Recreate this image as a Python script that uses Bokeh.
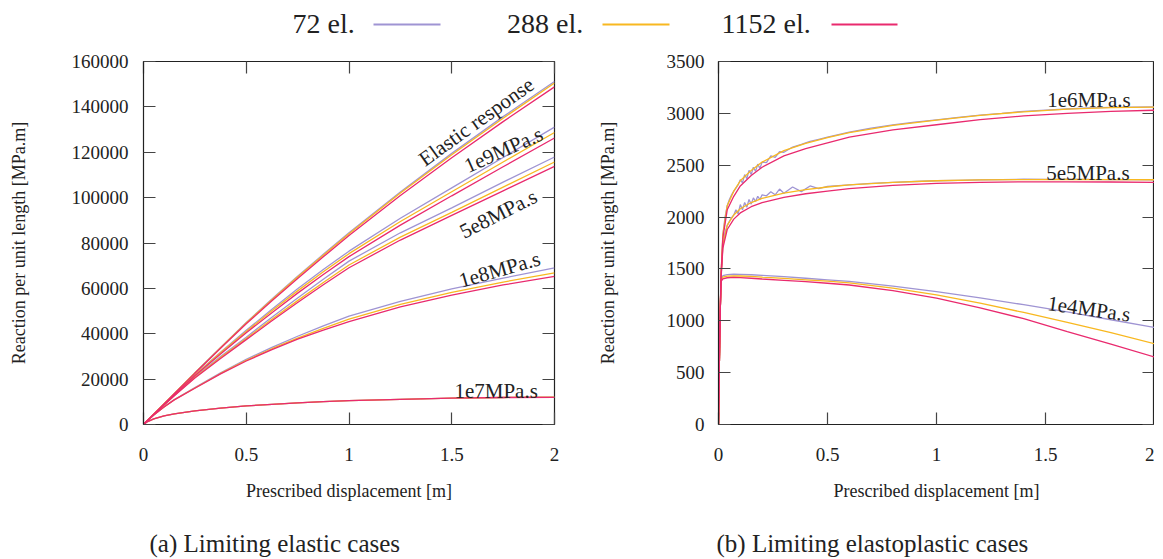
from bokeh.plotting import figure
from bokeh.models import Range1d, FixedTicker, LinearAxis, BasicTickFormatter
from bokeh.layouts import column, row
from bokeh.embed import file_html
from bokeh.resources import INLINE
from bokeh.core.properties import value

FONT = "Liberation Serif"
TXT = "#222222"
C72, C288, C1152 = "#9f94d3", "#f8b820", "#e92a6e"

# ---------------- data: (a) limiting elastic cases ----------------
x_left = [0, 0.02, 0.05, 0.1, 0.15, 0.25, 0.375, 0.5, 0.625, 0.75, 0.875, 1.0, 1.25, 1.5, 1.75, 2.0]
el_72 = [0, 1840, 4600, 9150, 13700, 22800, 34000, 45000, 55300, 65300, 75000, 84500, 102500, 119500, 135700, 151200]
el_288 = [0, 1840, 4600, 9150, 13650, 22700, 33850, 44800, 55000, 65000, 74600, 84100, 102000, 118900, 135000, 150500]
el_1152 = [0, 1830, 4570, 9100, 13600, 22550, 33600, 44400, 54500, 64400, 73900, 83300, 100900, 117600, 133500, 148800]
v1e9_72 = [0, 1830, 4500, 8900, 13300, 21900, 31900, 41500, 50800, 59800, 68300, 76400, 90900, 104300, 117700, 131100]
v1e9_288 = [0, 1830, 4500, 8850, 13200, 21700, 31600, 41000, 50100, 58900, 67300, 75300, 89500, 102600, 115700, 128700]
v1e9_1152 = [0, 1820, 4450, 8800, 13100, 21500, 31100, 40400, 49300, 57900, 66100, 74000, 87900, 100800, 113600, 126300]
v5e8_72 = [0, 1820, 4450, 8700, 12900, 21000, 30000, 38500, 47300, 55800, 64000, 72000, 84500, 95500, 106800, 117900]
v5e8_288 = [0, 1820, 4400, 8600, 12750, 20700, 29500, 37900, 46400, 54600, 62600, 70300, 82600, 93500, 104600, 115700]
v5e8_1152 = [0, 1810, 4400, 8550, 12650, 20500, 29100, 37400, 45700, 53800, 61600, 69100, 81300, 92200, 103000, 113800]
v1e8_72 = [0, 1800, 4200, 7800, 11000, 16300, 22800, 28700, 34000, 38900, 43500, 47800, 54300, 59800, 64500, 69000]
v1e8_288 = [0, 1800, 4150, 7750, 10900, 16100, 22500, 28300, 33400, 38100, 42400, 46400, 52900, 58200, 62800, 66800]
v1e8_1152 = [0, 1800, 4150, 7700, 10850, 16000, 22300, 28000, 33000, 37600, 41600, 45300, 51800, 57000, 61500, 65300]
v1e7_72 = [0, 1300, 2500, 3800, 4700, 6000, 7200, 8200, 8900, 9500, 10050, 10500, 11100, 11600, 11900, 12100]
v1e7_288 = [0, 1300, 2500, 3800, 4700, 6000, 7200, 8200, 8900, 9500, 10050, 10500, 11100, 11600, 11900, 12050]
v1e7_1152 = [0, 1300, 2500, 3800, 4700, 6000, 7200, 8200, 8900, 9500, 10050, 10500, 11100, 11600, 11900, 12000]

# ---------------- data: (b) limiting elastoplastic cases ----------------
x_right = [0, 0.004, 0.008, 0.012, 0.02, 0.04, 0.07, 0.1, 0.15, 0.2, 0.3, 0.4, 0.5, 0.6,
           0.8, 1.0, 1.2, 1.4, 1.6, 1.8, 2.0]
x_right72 = [0, 0.004, 0.008, 0.012, 0.02, 0.03, 0.04, 0.05, 0.06, 0.07, 0.08, 0.09, 0.10,
             0.11, 0.12, 0.13, 0.14, 0.15, 0.16, 0.17, 0.18, 0.19, 0.20, 0.22, 0.24, 0.26,
             0.28, 0.30, 0.34, 0.38, 0.42, 0.46, 0.50, 0.60, 0.70, 0.80, 0.90, 1.0, 1.1,
             1.2, 1.3, 1.4, 1.5, 1.6, 1.7, 1.8, 1.9, 2.0]
v1e6_72 = [0, 600, 1100, 1460, 1830, 2000, 2110, 2170, 2215, 2250, 2280, 2310, 2360, 2330,
           2410, 2370, 2450, 2410, 2480, 2440, 2510, 2470, 2530, 2525, 2590, 2575, 2630, 2625,
           2675, 2700, 2730, 2750, 2770, 2818, 2858, 2888, 2915, 2938, 2962, 2982, 3000,
           3020, 3032, 3042, 3052, 3057, 3060, 3062]
v1e6_288 = [0, 600, 1100, 1460, 1830, 2110, 2250, 2350, 2450, 2530, 2640, 2710, 2765, 2815,
            2885, 2935, 2980, 3015, 3040, 3055, 3060]
v1e6_1152 = [0, 600, 1100, 1450, 1800, 2070, 2200, 2300, 2400, 2480, 2590, 2660, 2715, 2770,
             2840, 2890, 2940, 2975, 3000, 3020, 3030]
v5e5_72 = [0, 600, 1100, 1430, 1730, 1850, 1920, 1960, 1995, 2020, 2070, 2030, 2120, 2070,
           2140, 2095, 2170, 2125, 2185, 2150, 2200, 2170, 2215, 2205, 2245, 2215, 2270, 2230,
           2290, 2245, 2300, 2275, 2295, 2310, 2325, 2335, 2343, 2350, 2354, 2358, 2362,
           2365, 2364, 2366, 2363, 2362, 2361, 2360]
v5e5_288 = [0, 600, 1100, 1430, 1730, 1920, 2020, 2080, 2140, 2180, 2230, 2265, 2290, 2310,
            2335, 2350, 2358, 2362, 2364, 2362, 2360]
v5e5_1152 = [0, 600, 1100, 1420, 1700, 1880, 1980, 2040, 2100, 2140, 2190, 2225, 2250, 2275,
             2305, 2325, 2335, 2340, 2340, 2338, 2335]
v1e4_72 = [0, 600, 1100, 1400, 1435, 1445, 1449, 1448, 1444, 1438, 1425, 1410, 1395, 1380,
           1335, 1282, 1220, 1155, 1085, 1010, 936]
v1e4_288 = [0, 600, 1100, 1390, 1420, 1430, 1433, 1432, 1428, 1420, 1408, 1395, 1382, 1365,
            1315, 1250, 1170, 1080, 985, 885, 779]
v1e4_1152 = [0, 600, 1100, 1380, 1405, 1415, 1418, 1416, 1410, 1403, 1390, 1377, 1362, 1345,
             1290, 1218, 1125, 1020, 895, 775, 651]

series_labels = ["72 el.", "288 el.", "1152 el."]
captions = ["(a) Limiting elastic cases", "(b) Limiting elastoplastic cases"]
x_ticks = [0, 0.5, 1, 1.5, 2]
left_yticks = list(range(0, 160001, 20000))
right_yticks = list(range(0, 3501, 500))

left_notes = ["Elastic response", "1e9MPa.s", "5e8MPa.s", "1e8MPa.s", "1e7MPa.s"]
right_notes = ["1e6MPa.s", "5e5MPa.s", "1e4MPa.s"]


def style_fig(p, xticks, yticks, ytick_standoff, ylab_standoff):
    p.xgrid.visible = False
    p.ygrid.visible = False
    p.outline_line_color = "#222222"
    p.outline_line_width = 1.2
    p.background_fill_color = "white"
    p.border_fill_color = "white"
    for ax in (p.xaxis[0], p.yaxis[0]):
        ax.major_tick_in = 12
        ax.major_tick_out = 0
        ax.minor_tick_line_color = None
        ax.major_tick_line_color = "#444444"
        ax.major_tick_line_width = 1.2
        ax.axis_line_color = "#222222"
        ax.major_label_text_font = FONT
        ax.major_label_text_font_size = "19px"
        ax.major_label_text_color = TXT
        ax.axis_label_text_font = FONT
        ax.axis_label_text_font_size = "18px"
        ax.axis_label_text_font_style = "normal"
        ax.axis_label_text_color = TXT
    p.xaxis[0].ticker = FixedTicker(ticks=xticks)
    p.yaxis[0].ticker = FixedTicker(ticks=yticks)
    p.yaxis[0].formatter = BasicTickFormatter(use_scientific=False)
    p.xaxis[0].major_label_standoff = 23
    p.yaxis[0].major_label_standoff = ytick_standoff
    p.xaxis[0].axis_label = "Prescribed displacement [m]"
    p.yaxis[0].axis_label = "Reaction per unit length [MPa.m]"
    p.xaxis[0].axis_label_standoff = 17
    p.yaxis[0].axis_label_standoff = ylab_standoff
    # mirrored ticks on the right and top sides
    for loc, tk in (("right", yticks), ("above", xticks)):
        a = LinearAxis(ticker=FixedTicker(ticks=tk), major_tick_in=12, major_tick_out=0,
                       minor_tick_line_color=None, axis_line_color=None,
                       major_tick_line_color="#444444", major_tick_line_width=1.2,
                       major_label_overrides={t: "" for t in tk}, major_label_standoff=0)
        p.add_layout(a, loc)


def make_fig(width, ymax, border_right):
    return figure(width=width, height=467, x_range=Range1d(0, 2), y_range=Range1d(0, ymax),
                  output_backend="svg", toolbar_location=None,
                  min_border_left=143, min_border_right=border_right,
                  min_border_top=18, min_border_bottom=86)


# ---------- left figure ----------
pl = make_fig(575, 160000, 21)
style_fig(pl, x_ticks, left_yticks, 15, 40)
left_groups = [(el_72, el_288, el_1152), (v1e9_72, v1e9_288, v1e9_1152),
               (v5e8_72, v5e8_288, v5e8_1152), (v1e8_72, v1e8_288, v1e8_1152),
               (v1e7_72, v1e7_288, v1e7_1152)]
for col_i, c in enumerate((C72, C288, C1152)):
    for g in left_groups:
        pl.line(x_left, g[col_i], line_color=c, line_width=1.3)
pl.text(x=[1.351, 1.567, 1.546, 1.538, 1.513],
        y=[116000, 113600, 84500, 63200, 14550],
        text=left_notes, angle=[0.623, 0.419, 0.47, 0.28, 0.0],
        text_font=value(FONT), text_font_size="21px", text_color=TXT,
        text_align="left", text_baseline="alphabetic")

# ---------- right figure ----------
pr = make_fig(579, 3500, 0)
style_fig(pr, x_ticks, right_yticks, 14, 46)
pr.line(x_right72, v1e6_72, line_color=C72, line_width=1.3)
pr.line(x_right72, v5e5_72, line_color=C72, line_width=1.3)
pr.line(x_right, v1e4_72, line_color=C72, line_width=1.3)
for ys in (v1e6_288, v5e5_288, v1e4_288):
    pr.line(x_right, ys, line_color=C288, line_width=1.3)
for ys in (v1e6_1152, v5e5_1152, v1e4_1152):
    pr.line(x_right, ys, line_color=C1152, line_width=1.3)
pr.text(x=[1.508, 1.503, 1.51], y=[3125, 2426, 1170], text=right_notes,
        angle=[0.0, 0.0, -0.14], text_font=value(FONT), text_font_size="21px",
        text_color=TXT, text_align="left", text_baseline="alphabetic")


def strip(width, height):
    s = figure(width=width, height=height, x_range=Range1d(0, width), y_range=Range1d(0, height),
               output_backend="svg", toolbar_location=None, min_border=0)
    s.axis.visible = False
    s.xgrid.visible = False
    s.ygrid.visible = False
    s.outline_line_color = None
    return s


# ---------- legend strip ----------
pg = strip(1154, 43)
pg.text(x=[292, 506.6, 721], y=[20, 20, 20], text=series_labels, text_font=value(FONT),
        text_font_size="28px", text_color=TXT, text_align="left", text_baseline="middle")
pg.segment(x0=[373, 602, 831], y0=[19, 19, 19], x1=[440, 669, 897], y1=[19, 19, 19],
           line_color=[C72, C288, C1152], line_width=2)

# ---------- caption strip ----------
pc = strip(1154, 48)
pc.text(x=[149, 716], y=[15, 15], text=captions, text_font=value(FONT),
        text_font_size="25px", text_color=TXT, text_align="left", text_baseline="middle")

layout = column(pg, row(pl, pr), pc)
open("out.html", "w").write(file_html(layout, INLINE))
